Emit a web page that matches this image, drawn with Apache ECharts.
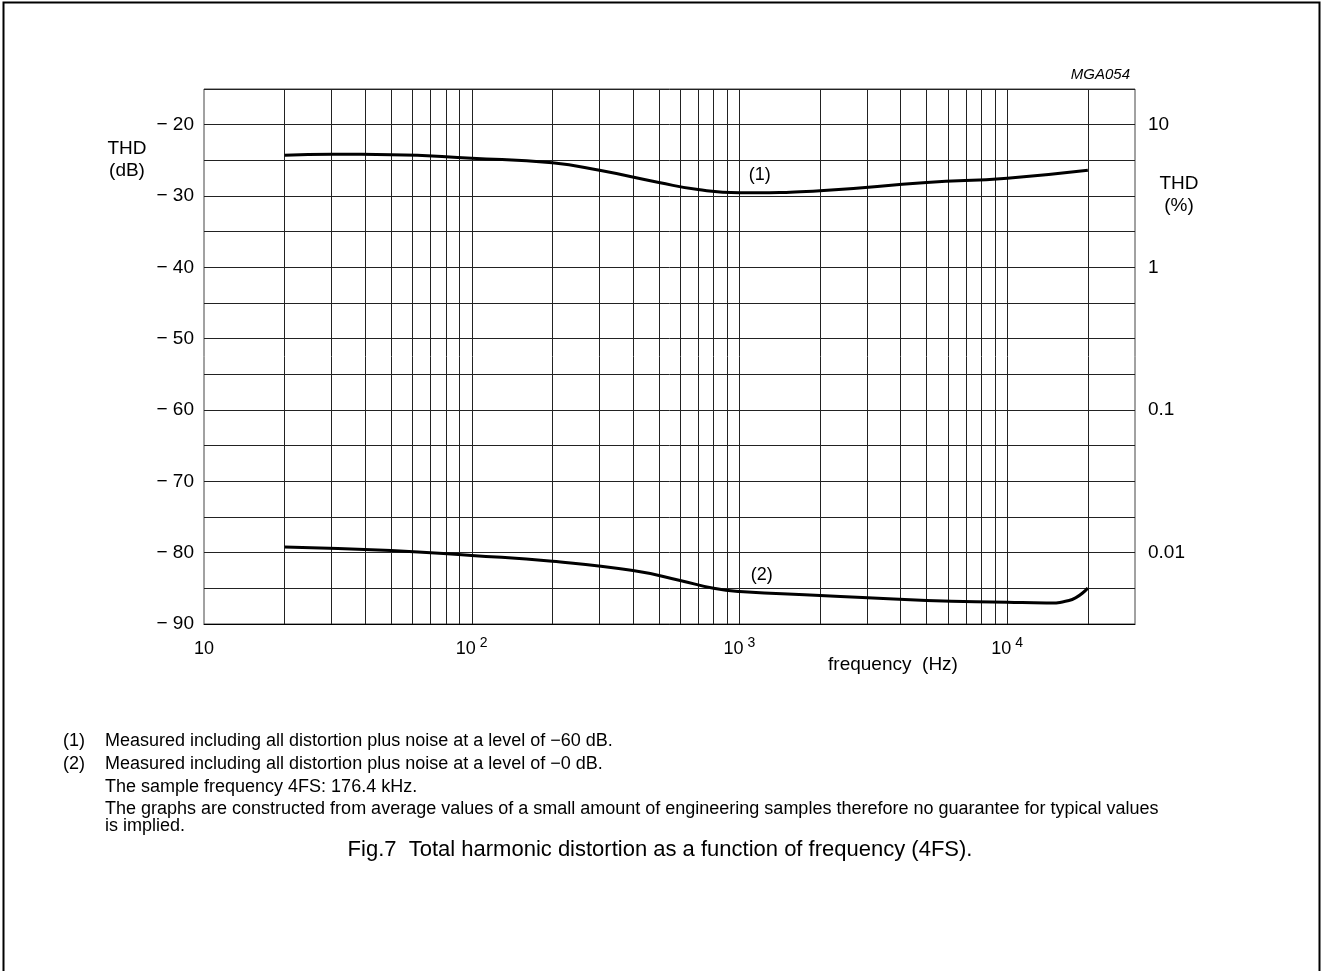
<!DOCTYPE html>
<html>
<head>
<meta charset="utf-8">
<style>
html,body{margin:0;padding:0;background:#fff;}
#chart{width:1322px;height:971px;}
</style>
<script src="https://cdn.jsdelivr.net/npm/echarts@6/dist/echarts.min.js"></script>
</head>
<body>
<div id="chart"></div>
<script>
// ---- data ----
const curve1Freq = [20, 30, 50, 100, 200, 300, 500, 700, 1000, 2000, 5000, 10000, 20000];
const curve1Db   = [-24.3, -24.15, -24.2, -24.7, -25.35, -26.4, -28.1, -29.1, -29.55, -29.25, -28.1, -27.5, -26.4];
const curve2Freq = [20, 50, 100, 200, 400, 600, 800, 1000, 2000, 5000, 10000, 14000, 17000, 20000];
const curve2Db   = [-79.2, -79.7, -80.4, -81.2, -82.5, -83.9, -85.0, -85.45, -86.0, -86.7, -86.95, -87.05, -86.7, -84.95];
const gridFreqs = [20, 30, 40, 50, 60, 70, 80, 90, 100, 200, 300, 400, 500, 600, 700, 800, 900, 1000, 2000, 3000, 4000, 5000, 6000, 7000, 8000, 9000, 10000, 20000];
const xTickLabels = {10: '10', 100: '10{s|2}', 1000: '10{s|3}', 10000: '10{s|4}'};
const leftTickValues = [-20, -30, -40, -50, -60, -70, -80, -90];
const rightTickValues = [-20, -40, -60, -80];
const rightTickLabels = ['10', '1', '0.1', '0.01'];
const curveLabels = [{name: '(1)', freq: 1190, db: -27.1}, {name: '(2)', freq: 1210, db: -83.1}];
const footnotes = [
  ['(1)', 'Measured including all distortion plus noise at a level of \u221260 dB.'],
  ['(2)', 'Measured including all distortion plus noise at a level of \u22120 dB.'],
  ['', 'The sample frequency 4FS: 176.4 kHz.'],
  ['', 'The graphs are constructed from average values of a small amount of engineering samples therefore no guarantee for typical values'],
  ['', 'is implied.']
];

const FONT = '"Liberation Sans", Arial, sans-serif';
const chart = echarts.init(document.getElementById('chart'), null, {renderer: 'canvas'});

const pair = (xs, ys) => xs.map((x, i) => [x, ys[i]]);

const footY = [741, 764, 787, 809, 826];
const graphics = [
  {type: 'rect', shape: {x: 3.5, y: 2.5, width: 1316, height: 1000}, style: {fill: 'none', stroke: '#000', lineWidth: 2}, silent: true},
  {type: 'text', x: 127, y: 149, style: {text: 'THD', font: '19px ' + FONT, fill: '#000', align: 'center', verticalAlign: 'middle'}},
  {type: 'text', x: 127, y: 171, style: {text: '(dB)', font: '19px ' + FONT, fill: '#000', align: 'center', verticalAlign: 'middle'}},
  {type: 'text', x: 1179, y: 184, style: {text: 'THD', font: '19px ' + FONT, fill: '#000', align: 'center', verticalAlign: 'middle'}},
  {type: 'text', x: 1179, y: 206, style: {text: '(%)', font: '19px ' + FONT, fill: '#000', align: 'center', verticalAlign: 'middle'}},
  {type: 'text', x: 1130, y: 75, style: {text: 'MGA054', font: 'italic 15px ' + FONT, fill: '#000', align: 'right', verticalAlign: 'middle'}},
  {type: 'text', x: 893, y: 665, style: {text: 'frequency  (Hz)', font: '19px ' + FONT, fill: '#000', align: 'center', verticalAlign: 'middle'}},
  {type: 'text', x: 660, y: 850, style: {text: 'Fig.7  Total harmonic distortion as a function of frequency (4FS).', font: '22px ' + FONT, fill: '#000', align: 'center', verticalAlign: 'middle'}}
];
footnotes.forEach((f, i) => {
  if (f[0]) graphics.push({type: 'text', x: 63, y: footY[i], style: {text: f[0], font: '18px ' + FONT, fill: '#000', verticalAlign: 'middle'}});
  graphics.push({type: 'text', x: 105, y: footY[i], style: {text: f[1], font: '18px ' + FONT, fill: '#000', verticalAlign: 'middle'}});
});

const option = {
  backgroundColor: '#fff',
  animation: false,
  grid: {left: 204, top: 89, right: 187, bottom: 347, show: true, borderColor: '#444', borderWidth: 1, backgroundColor: 'transparent'},
  xAxis: {
    type: 'log', logBase: 10, min: 10, max: 30000,
    axisLine: {show: true, lineStyle: {color: '#000', width: 1}},
    axisTick: {show: false},
    splitLine: {show: false},
    minorTick: {show: false}, minorSplitLine: {show: false},
    axisLabel: {
      margin: 12, color: '#000', fontFamily: FONT, fontSize: 18, lineHeight: 26,
      formatter: v => xTickLabels[Math.round(v)] || '',
      rich: {s: {fontSize: 14, lineHeight: 13, verticalAlign: 'top', padding: [0, 0, 0, 4], fontFamily: FONT, color: '#000'}}
    }
  },
  yAxis: [
    {
      type: 'value', min: -90, max: -15, interval: 5, position: 'left',
      axisLine: {show: false}, axisTick: {show: false},
      splitLine: {show: true, lineStyle: {color: '#222', width: 1}},
      axisLabel: {margin: 10, color: '#000', fontFamily: FONT, fontSize: 19,
        formatter: v => leftTickValues.indexOf(v) >= 0 ? '\u2212 ' + Math.abs(v) : ''}
    },
    {
      type: 'value', min: -90, max: -15, interval: 5, position: 'right',
      axisLine: {show: false}, axisTick: {show: false}, splitLine: {show: false},
      axisLabel: {margin: 13, color: '#000', fontFamily: FONT, fontSize: 19,
        formatter: v => { const i = rightTickValues.indexOf(v); return i >= 0 ? rightTickLabels[i] : ''; }}
    }
  ],
  series: [
    {
      name: 'grid', type: 'line', data: [[10, -90], [30000, -90]], showSymbol: false, silent: true, z: 1,
      lineStyle: {opacity: 0},
      markLine: {
        silent: true, symbol: 'none', animation: false,
        lineStyle: {color: '#222', width: 1, type: 'solid'},
        label: {show: false},
        data: gridFreqs.map(f => ({xAxis: f}))
      }
    },
    {
      name: '(1)', type: 'line', data: pair(curve1Freq, curve1Db), smooth: 0.5,
      showSymbol: false, z: 5, lineStyle: {color: '#000', width: 3},
      markPoint: {
        symbol: 'rect', symbolSize: 1, itemStyle: {color: 'rgba(0,0,0,0)'},
        label: {show: true, position: 'inside', color: '#000', fontFamily: FONT, fontSize: 18, formatter: curveLabels[0].name},
        data: [{coord: [curveLabels[0].freq, curveLabels[0].db]}]
      }
    },
    {
      name: '(2)', type: 'line', data: pair(curve2Freq, curve2Db), smooth: 0.5,
      showSymbol: false, z: 5, lineStyle: {color: '#000', width: 3},
      markPoint: {
        symbol: 'rect', symbolSize: 1, itemStyle: {color: 'rgba(0,0,0,0)'},
        label: {show: true, position: 'inside', color: '#000', fontFamily: FONT, fontSize: 18, formatter: curveLabels[1].name},
        data: [{coord: [curveLabels[1].freq, curveLabels[1].db]}]
      }
    }
  ],
  graphic: graphics
};
chart.setOption(option);
</script>
</body>
</html>
